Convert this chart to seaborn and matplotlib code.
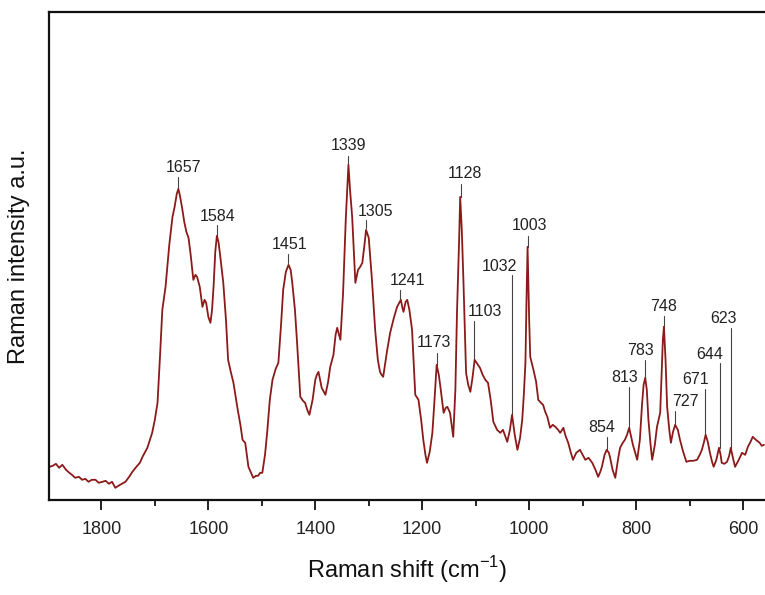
import matplotlib
matplotlib.use("Agg")
import matplotlib.pyplot as plt
from matplotlib.ticker import MultipleLocator, NullLocator
import seaborn as sns
import pandas as pd

# Spectrum: Raman shift (cm-1) and intensity (a.u.)
shift = [1897, 1891, 1885, 1879, 1873, 1866, 1860, 1855, 1849, 1842, 1836, 1830,
         1824, 1818, 1811, 1805, 1798, 1792, 1786, 1780, 1774, 1765,
         1755, 1748, 1742, 1733, 1728, 1723, 1714, 1705, 1700, 1695, 1690, 1686,
         1680, 1673, 1667, 1663, 1659, 1656, 1653, 1649, 1645, 1641, 1637, 1633,
         1628, 1624, 1621, 1616, 1611, 1607, 1604, 1600, 1596, 1593,
         1590, 1587, 1584, 1581, 1578, 1572, 1567, 1563, 1558, 1553, 1545, 1540,
         1536, 1531, 1525, 1520, 1516, 1511, 1507, 1503, 1499, 1494, 1490, 1485,
         1480, 1474, 1469, 1464, 1460, 1455, 1450, 1446, 1443, 1438, 1434, 1428,
         1423, 1419, 1415, 1411, 1405, 1400, 1397, 1394, 1388, 1381, 1376, 1372,
         1366, 1362, 1359, 1353, 1348, 1343, 1338, 1335, 1331, 1325, 1320,
         1316, 1312, 1308, 1305, 1300, 1294, 1288, 1283, 1279, 1276, 1273, 1266,
         1260, 1253, 1247, 1243, 1240, 1237, 1235, 1231, 1228, 1224,
         1219, 1213, 1207, 1202, 1198, 1194, 1191, 1186, 1181, 1177, 1173, 1169,
         1166, 1160, 1156, 1153, 1148, 1142, 1138,
         1135, 1131, 1129, 1126, 1123, 1118, 1114, 1110, 1106, 1102, 1097, 1092,
         1087, 1082, 1077, 1072, 1067, 1060, 1054, 1049, 1045,
         1041, 1036, 1032, 1027, 1022, 1017, 1013, 1010, 1007, 1005, 1003, 1000,
         998, 992, 987, 983, 978, 974, 970, 966, 961, 956,
         951, 946, 942, 936, 932, 927, 922, 918, 912, 905, 900, 895, 889, 882, 876,
         871, 867, 864, 859, 855, 851, 849, 844,
         839, 834, 830, 825, 821, 817, 813, 806, 798, 793, 789, 786, 783, 780, 777,
         773, 770, 765, 761, 758, 755, 752, 750, 748, 745, 742,
         738, 735, 731, 727, 722, 718, 712, 706, 700, 693, 686, 681, 677, 673,
         670, 666, 662, 658, 655, 650, 645, 642, 640, 635, 630, 626,
         623, 619, 615, 608, 602, 596, 591, 586, 582, 576, 569, 565, 561]
intensity = [33, 34, 36, 32, 35, 30, 27, 25, 22, 23, 20, 21,
             18, 20, 20, 17, 18, 19, 16, 18, 12, 15,
             18, 23, 28, 34, 37, 43, 52, 67, 80, 97, 147, 190,
             213, 255, 283, 293, 306, 311, 304, 292, 278, 268, 262, 245,
             220, 225, 223, 213, 193, 200, 197, 183, 177, 190,
             215, 248, 264, 258, 245, 217, 180, 140, 128, 117, 90, 75,
             60, 57, 33, 27, 22, 24, 24, 27, 27, 45, 67, 100,
             120, 131, 137, 175, 210, 228, 235, 230, 217, 190, 157, 103,
             99, 97, 90, 85, 100, 120, 125, 128, 112, 105, 118, 133,
             145, 165, 172, 160, 207, 280, 335, 310, 283, 217, 230,
             233, 237, 255, 270, 262, 220, 170, 140, 128, 125, 123, 148,
             167, 182, 193, 197, 200, 192, 188, 198, 200, 190,
             170, 105, 100, 80, 60, 45, 37, 48, 67, 100, 135, 125,
             113, 87, 92, 93, 87, 63, 110,
             187, 260, 303, 270, 220, 127, 115, 108, 122, 140, 136, 132,
             125, 120, 117, 100, 78, 70, 67, 70, 64,
             58, 70, 85, 65, 50, 62, 80, 105, 137, 200, 253, 180,
             143, 130, 118, 100, 97, 95, 88, 83, 72, 75,
             73, 70, 67, 72, 64, 57, 47, 40, 47, 50, 45, 40, 42, 37, 30,
             23, 28, 33, 45, 50, 47, 43, 30,
             22, 40, 52, 57, 60, 65, 72, 55, 40, 60, 95, 115, 122, 110, 80,
             55, 40, 55, 73, 80, 87, 130, 160, 173, 140, 93,
             70, 57, 68, 75, 70, 60, 48, 38, 39, 39, 40, 45, 50, 58,
             65, 58, 47, 38, 33, 40, 52, 45, 37, 36, 38, 44,
             52, 42, 33, 40, 47, 45, 53, 58, 63, 60, 57, 54, 55]

# Peak annotations
peak_labels = ["1657", "1584", "1451", "1339", "1305", "1241", "1173", "1128",
               "1103", "1032", "1003", "854", "813", "783", "748", "727",
               "671", "644", "623"]
peak_pos = [1657, 1584, 1451, 1339, 1305, 1241, 1173, 1128,
            1103, 1032, 1003, 854, 813, 783, 748, 727, 671, 644, 623]
label_x = [1647, 1583, 1449, 1338, 1288, 1228, 1178, 1121,
           1082, 1056, 1000, 864, 822, 791, 748, 708, 688, 662, 637]
label_y = [332, 283, 255, 354, 288, 219, 157, 326,
           188, 233, 274, 72, 122, 149, 193, 98, 120, 145, 181]
line_top = [323, 275, 246, 344, 280, 210, 147, 316,
            179, 225, 264, 63, 113, 140, 184, 89, 111, 137, 172]
line_bottom = [312, 263, 237, 335, 272, 200, 135, 303,
               140, 85, 253, 51, 72, 122, 173, 75, 65, 52, 52]

sns.set_style("white")
plt.rcParams['font.family'] = ['Liberation Sans', 'DejaVu Sans']
plt.rcParams['mathtext.fontset'] = 'custom'
plt.rcParams['mathtext.rm'] = 'Liberation Sans'

fig = plt.figure(figsize=(7.65, 5.95), dpi=100)
ax = fig.add_axes([0.064, 0.160, 0.936, 0.820])

df = pd.DataFrame({"shift": shift, "intensity": intensity})
sns.lineplot(data=df, x="shift", y="intensity", ax=ax, color="#8b1a1a",
             linewidth=1.3, estimator=None, sort=False)

for lab, px, tx, ty, lt, lb in zip(peak_labels, peak_pos, label_x, label_y,
                                    line_top, line_bottom):
    ax.plot([px, px], [lb, lt], color="#444444", linewidth=0.8, zorder=1)
    ax.text(tx, ty, lab, ha="center", va="center", fontsize=11.5, color="#222222")

ax.set_xlim(1898, 559)
ax.set_ylim(0, 488)
ax.xaxis.set_major_locator(MultipleLocator(200))
ax.xaxis.set_minor_locator(MultipleLocator(100))
ax.yaxis.set_major_locator(NullLocator())
ax.tick_params(axis="x", which="major", direction="out", length=7, width=1.4,
               labelsize=13, colors="#222222", bottom=True, pad=8)
ax.tick_params(axis="x", which="minor", direction="out", length=4, width=1.4,
               bottom=True)
for s in ["left", "bottom", "top"]:
    ax.spines[s].set_linewidth(1.6)
    ax.spines[s].set_color("#111111")
ax.spines["right"].set_visible(False)

ax.set_xlabel("Raman shift (cm$^{-1}$)", fontsize=17, color="#111111", labelpad=12)
ax.set_ylabel("Raman intensity a.u.", fontsize=17, color="#111111", labelpad=14)

fig.savefig("out.png", dpi=100)
